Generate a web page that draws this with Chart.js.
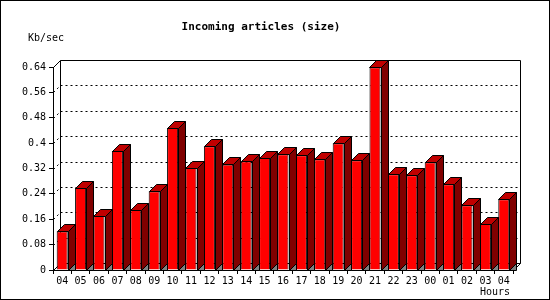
<!DOCTYPE html>
<html>
<head>
<meta charset="utf-8">
<script src="https://cdn.jsdelivr.net/npm/chart.js@4"></script>
<style>
  html, body { margin: 0; padding: 0; background: #fff; }
  #wrap { width: 550px; height: 300px; }
</style>
</head>
<body>
<div id="wrap"><canvas id="sizeChart" width="550" height="300"></canvas></div>
<script>
const hours = ['04','05','06','07','08','09','10','11','12','13','14','15',
               '16','17','18','19','20','21','22','23','00','01','02','03','04'];
const sizeKbSec = [0.122, 0.259, 0.170, 0.375, 0.189, 0.248, 0.448, 0.322, 0.390, 0.333, 0.343, 0.353,
                   0.365, 0.362, 0.349, 0.400, 0.346, 0.639, 0.302, 0.299, 0.340, 0.270, 0.204, 0.145, 0.223];
const yTicks = [0, 0.08, 0.16, 0.24, 0.32, 0.4, 0.48, 0.56, 0.64];
const yTickLabels = ['0', '0.08', '0.16', '0.24', '0.32', '0.4', '0.48', '0.56', '0.64'];

const depth = 7;
const mono = '"DejaVu Sans Mono", monospace';

// back wall, floor and dotted grid behind the bars, 3d faces on top of them
const wall3d = {
  id: 'wall3d',
  beforeDatasetsDraw(chart) {
    const { ctx, chartArea: a, scales: { y } } = chart;
    const L = Math.round(a.left) + 0.5, R = Math.round(a.right) + 0.5;
    const T = Math.round(a.top) + 0.5, B = Math.round(a.bottom) + 0.5;
    ctx.save();
    ctx.strokeStyle = '#000';
    ctx.lineWidth = 1;
    ctx.setLineDash([2, 3]);
    yTicks.slice(1, -1).forEach(v => {
      const py = Math.round(y.getPixelForValue(v)) + 0.5;
      ctx.beginPath();
      ctx.moveTo(L + depth, py - depth);
      ctx.lineTo(R + depth, py - depth);
      ctx.moveTo(L, py);
      ctx.lineTo(L + depth, py - depth);
      ctx.stroke();
    });
    ctx.setLineDash([]);
    ctx.beginPath();
    ctx.moveTo(L, T);
    ctx.lineTo(L + depth, T - depth);
    ctx.lineTo(R + depth, T - depth);
    ctx.lineTo(R + depth, B - depth);
    ctx.lineTo(R, B);
    ctx.moveTo(L + depth, T - depth);
    ctx.lineTo(L + depth, B - depth);
    ctx.lineTo(R + depth, B - depth);
    ctx.moveTo(L, B);
    ctx.lineTo(L + depth, B - depth);
    ctx.stroke();
    ctx.restore();
  },
  afterDatasetsDraw(chart) {
    const { ctx } = chart;
    ctx.save();
    ctx.strokeStyle = '#000';
    ctx.lineWidth = 1;
    chart.getDatasetMeta(0).data.forEach(bar => {
      const p = bar.getProps(['x', 'y', 'base', 'width'], true);
      const x1 = Math.round(p.x - p.width / 2) + 0.5;
      const x2 = Math.round(p.x + p.width / 2) + 0.5;
      const top = Math.round(p.y) + 0.5;
      const base = Math.round(p.base) + 0.5;
      // floor shadow
      ctx.fillStyle = '#808080';
      ctx.beginPath();
      ctx.moveTo(x2, base);
      ctx.lineTo(x2 + depth, base - depth);
      ctx.lineTo(x2 + depth, base);
      ctx.closePath();
      ctx.fill();
      ctx.stroke();
      // side
      ctx.fillStyle = '#800000';
      ctx.beginPath();
      ctx.moveTo(x2, top);
      ctx.lineTo(x2 + depth, top - depth);
      ctx.lineTo(x2 + depth, base - depth);
      ctx.lineTo(x2, base);
      ctx.closePath();
      ctx.fill();
      ctx.stroke();
      // top
      ctx.fillStyle = '#c00000';
      ctx.beginPath();
      ctx.moveTo(x1, top);
      ctx.lineTo(x1 + depth, top - depth);
      ctx.lineTo(x2 + depth, top - depth);
      ctx.lineTo(x2, top);
      ctx.closePath();
      ctx.fill();
      ctx.stroke();
    });
    ctx.restore();
  },
  afterDraw(chart) {
    const { ctx } = chart;
    ctx.save();
    ctx.strokeStyle = '#000';
    ctx.lineWidth = 1;
    ctx.strokeRect(0.5, 0.5, 549, 299);
    ctx.fillStyle = '#000';
    ctx.textBaseline = 'middle';
    ctx.textAlign = 'center';
    ctx.font = 'bold 11px ' + mono;
    ctx.fillText('Incoming articles (size)', 261, 27);
    ctx.textAlign = 'left';
    ctx.font = '10px ' + mono;
    ctx.fillText('Kb/sec', 28, 38);
    ctx.fillText('Hours', 480, 292);
    ctx.restore();
  }
};

const ctx = document.getElementById('sizeChart').getContext('2d');
const sizeChart = new Chart(ctx, {
  type: 'bar',
  data: {
    labels: hours,
    datasets: [{
      data: sizeKbSec,
      backgroundColor: '#ff0000',
      borderColor: '#000',
      borderWidth: 1,
      barPercentage: 0.6,
      categoryPercentage: 1
    }]
  },
  options: {
    responsive: false,
    animation: false,
    layout: { padding: { top: 67, right: 37, left: 0, bottom: 0 } },
    plugins: { legend: { display: false }, title: { display: false }, tooltip: { enabled: false } },
    scales: {
      x: {
        grid: { drawOnChartArea: false, tickLength: 4, color: '#000' },
        border: { color: '#000' },
        ticks: { color: '#000', font: { family: mono, size: 10 }, padding: 1, maxRotation: 0, autoSkip: false },
        afterFit: s => { s.height = 30; }
      },
      y: {
        min: 0,
        max: 0.64,
        afterBuildTicks: s => { s.ticks = yTicks.map(v => ({ value: v })); },
        grid: { drawOnChartArea: false, tickLength: 4, color: '#000' },
        border: { color: '#000' },
        ticks: {
          color: '#000',
          font: { family: mono, size: 10 },
          padding: 3,
          callback: (v, i) => yTickLabels[i]
        },
        afterFit: s => { s.width = 53; }
      }
    }
  },
  plugins: [wall3d]
});
</script>
</body>
</html>
